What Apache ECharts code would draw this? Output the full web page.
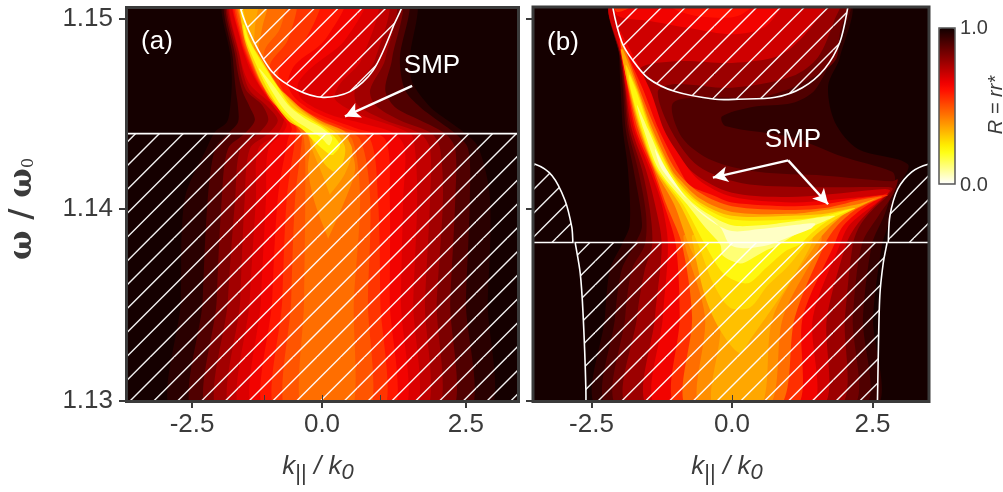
<!DOCTYPE html>
<html><head><meta charset="utf-8">
<style>html,body{margin:0;padding:0;background:#fff}#c{width:1003px;height:492px}</style>
<script src="https://cdn.jsdelivr.net/npm/echarts@6/dist/echarts.min.js"></script>
</head><body><div id="c"></div>
<script>
// ---- reflectance scale (R = rr*), 0..1 in even steps of 0.05
const colorScale=['#ffffff','#ffffc5','#ffff8b','#ffff51','#ffff17','#ffec00','#ffcd00','#ffad00','#ff8e00','#ff6e00','#ff4f00','#ff2f00','#ff1000','#ef0000','#cf0000','#af0000','#8f0000','#700000','#500000','#300000','#100000'];
// ---- panel (a): contour bands, rows are [omega, k left, k right]
const aR96=[[1.1513,-1.70,1.61],[1.1479,-1.63,1.57],[1.1467,-1.61,1.61],[1.1454,-1.64,1.93],[1.1446,-1.70,2.29],[1.1441,-1.91,2.52],[1.1433,-2.05,2.79],[1.1406,-2.45,3.00],[1.1353,-2.52,2.96],[1.1290,-2.57,2.86]];
const aR90=[[1.1513,-1.66,1.48],[1.1479,-1.59,1.39],[1.1463,-1.54,1.48],[1.1454,-1.50,1.75],[1.1446,-1.50,2.11],[1.1440,-1.68,2.38],[1.1432,-1.91,2.61],[1.1406,-2.04,2.64],[1.1353,-2.13,2.57],[1.1290,-2.20,2.52]];
const aR83=[[1.1513,-1.63,1.36],[1.1479,-1.54,1.25],[1.1463,-1.43,1.13],[1.1454,-1.29,1.30],[1.1447,-1.20,1.75],[1.1440,-1.38,2.20],[1.1432,-1.68,2.38],[1.1406,-1.79,2.38],[1.1353,-1.88,2.29],[1.1290,-1.95,2.20]];
const aR77=[[1.1513,-1.61,1.25],[1.1479,-1.50,1.13],[1.1463,-1.36,0.86],[1.1455,-1.07,0.95],[1.1447,-0.96,1.39],[1.1440,-1.14,1.96],[1.1432,-1.46,2.11],[1.1406,-1.55,2.16],[1.1353,-1.68,2.05],[1.1290,-1.77,1.95]];
const aR72=[[1.1513,-1.59,1.13],[1.1479,-1.46,0.95],[1.1463,-1.30,0.59],[1.1455,-1.00,0.64],[1.1447,-0.79,1.13],[1.1440,-0.96,1.75],[1.1432,-1.29,1.93],[1.1406,-1.38,1.93],[1.1353,-1.46,1.84],[1.1290,-1.55,1.75]];
const aR68=[[1.1513,-1.57,0.95],[1.1479,-1.45,0.71],[1.1466,-1.29,0.32],[1.1458,-1.00,0.23],[1.1450,-0.68,0.68],[1.1440,-0.79,1.57],[1.1432,-1.14,1.66],[1.1406,-1.18,1.70],[1.1353,-1.29,1.63],[1.1290,-1.38,1.57]];
const aR64=[[1.1513,-1.55,0.77],[1.1489,-1.46,0.41],[1.1474,-1.29,-0.21],[1.1466,-1.14,-0.43],[1.1458,-0.96,-0.36],[1.1450,-0.75,0.14],[1.1445,-0.63,0.77],[1.1440,-0.71,1.30],[1.1432,-0.96,1.48],[1.1406,-1.00,1.45],[1.1353,-1.09,1.41],[1.1290,-1.16,1.39]];
const aR59=[[1.1513,-1.54,0.41],[1.1489,-1.45,0.05],[1.1476,-1.29,-0.48],[1.1466,-1.13,-0.61],[1.1458,-0.93,-0.46],[1.1450,-0.70,-0.04],[1.1443,-0.54,0.59],[1.1437,-0.61,1.13],[1.1406,-0.79,1.21],[1.1353,-0.89,1.21],[1.1290,-0.98,1.21]];
const aR54=[[1.1513,-1.52,-0.04],[1.1489,-1.43,-0.30],[1.1476,-1.27,-0.75],[1.1466,-1.11,-0.75],[1.1458,-0.91,-0.57],[1.1450,-0.66,-0.18],[1.1443,-0.46,0.41],[1.1437,-0.48,0.86],[1.1406,-0.63,1.00],[1.1353,-0.71,1.04],[1.1290,-0.79,1.04]];
const aR49=[[1.1513,-1.50,-0.48],[1.1489,-1.41,-0.61],[1.1476,-1.25,-0.93],[1.1466,-1.09,-0.80],[1.1458,-0.89,-0.60],[1.1450,-0.65,-0.25],[1.1443,-0.40,0.29],[1.1437,-0.36,0.68],[1.1406,-0.48,0.86],[1.1353,-0.55,0.82],[1.1290,-0.61,0.80]];
const aR45=[[1.1513,-1.50,-0.66],[1.1495,-1.43,-0.75],[1.1484,-1.34,-1.02],[1.1474,-1.20,-1.02],[1.1466,-1.07,-0.84],[1.1458,-0.93,-0.57],[1.1450,-0.66,-0.25],[1.1443,-0.43,0.21],[1.1437,-0.32,0.54],[1.1406,-0.30,0.68],[1.1353,-0.32,0.57],[1.1290,-0.34,0.50]];
const aR40=[[1.1513,-1.50,-0.96],[1.1495,-1.41,-1.07],[1.1481,-1.29,-1.14],[1.1469,-1.13,-1.00],[1.1461,-0.96,-0.66],[1.1453,-0.77,-0.36],[1.1446,-0.55,0.02],[1.1441,-0.30,0.41],[1.1434,-0.21,0.50],[1.1421,-0.25,0.59],[1.1403,-0.12,0.38],[1.1385,0.11,0.11]];
const aR36=[[1.1513,-1.48,-1.14],[1.1495,-1.41,-1.20],[1.1481,-1.27,-1.20],[1.1469,-1.11,-1.02],[1.1461,-0.95,-0.68],[1.1453,-0.73,-0.39],[1.1446,-0.52,-0.04],[1.1441,-0.27,0.32],[1.1432,-0.18,0.54],[1.1419,0.00,0.41],[1.1408,0.14,0.14]];
const aR30=[[1.1505,-1.46,-1.41],[1.1489,-1.38,-1.29],[1.1477,-1.23,-1.04],[1.1465,-1.05,-0.79],[1.1454,-0.80,-0.46],[1.1446,-0.57,-0.07],[1.1441,-0.25,0.23],[1.1433,-0.13,0.41],[1.1424,0.05,0.36],[1.1420,0.20,0.20]];
const aR22=[[1.1497,-1.41,-1.39],[1.1489,-1.36,-1.30],[1.1477,-1.19,-1.07],[1.1465,-1.00,-0.80],[1.1454,-0.77,-0.54],[1.1447,-0.55,-0.18],[1.1442,-0.34,0.09],[1.1434,-0.07,0.32],[1.1429,0.14,0.20]];
const aR14=[[1.1474,-1.13,-1.11],[1.1465,-0.95,-0.86],[1.1454,-0.71,-0.57],[1.1447,-0.48,-0.25],[1.1443,-0.27,0.00],[1.1438,-0.02,0.18],[1.1434,0.11,0.14]];
const aLevels=[.96,.90,.83,.77,.72,.68,.64,.59,.54,.49,.45,.40,.36,.30,.22,.14];
const aRows=[aR96,aR90,aR83,aR77,aR72,aR68,aR64,aR59,aR54,aR49,aR45,aR40,aR36,aR30,aR22,aR14];
// ---- panel (b): contour outlines as [k, omega]
const b95=[[-2.14,1.1510],[-2.03,1.1489],[-1.98,1.1463],[-1.94,1.1442],[-1.85,1.1421],[-1.82,1.1392],[-1.96,1.1382],[-2.17,1.1369],[-2.26,1.1344],[-2.35,1.1296],[2.51,1.1296],[2.51,1.1344],[2.67,1.1382],[2.78,1.1392],[2.94,1.1411],[3.13,1.1424],[2.24,1.1432],[1.83,1.1446],[1.71,1.1465],[1.92,1.1480],[2.06,1.1510]];
const b90=[[-2.10,1.1510],[-1.99,1.1479],[-1.94,1.1463],[-1.89,1.1442],[-1.75,1.1421],[-1.60,1.1392],[-1.73,1.1382],[-1.96,1.1369],[-2.08,1.1344],[-2.17,1.1296],[2.31,1.1296],[2.33,1.1344],[2.49,1.1382],[2.72,1.1398],[2.90,1.1416],[2.85,1.1420],[1.96,1.1428],[1.07,1.1438],[-0.12,1.1444],[-0.18,1.1449],[0.36,1.1454],[1.07,1.1456],[1.48,1.1463],[1.83,1.1484],[2.05,1.1510]];
const b85=[[-2.12,1.1510],[-1.98,1.1479],[-1.92,1.1463],[-1.85,1.1442],[-1.67,1.1421],[-1.53,1.1398],[-1.55,1.1382],[-1.78,1.1369],[-1.90,1.1344],[-1.99,1.1296],[2.10,1.1296],[2.15,1.1344],[2.31,1.1382],[2.63,1.1398],[2.86,1.1408],[2.95,1.1416],[2.85,1.1415],[1.65,1.1418],[0.46,1.1420],[-0.36,1.1426],[-0.89,1.1438],[-1.05,1.1456],[-0.36,1.1459],[0.50,1.1459],[1.21,1.1466],[1.83,1.1478],[1.92,1.1493],[2.01,1.1510]];
const b78=[[-2.12,1.1510],[-1.96,1.1479],[-1.90,1.1463],[-1.82,1.1442],[-1.60,1.1421],[-1.46,1.1400],[-1.42,1.1382],[-1.55,1.1369],[-1.69,1.1344],[-1.82,1.1296],[1.87,1.1296],[2.01,1.1344],[2.15,1.1382],[2.28,1.1392],[2.53,1.1401],[2.72,1.1406],[2.86,1.1411],[2.78,1.1412],[1.35,1.1412],[0.18,1.1414],[-0.60,1.1423],[-1.07,1.1441],[-1.32,1.1462],[-1.01,1.1466],[0.00,1.1464],[1.07,1.1470],[1.53,1.1480],[1.83,1.1500],[1.92,1.1510]];
const b70=[[-2.12,1.1510],[-1.96,1.1479],[-1.89,1.1463],[-1.78,1.1442],[-1.53,1.1421],[-1.37,1.1403],[-1.25,1.1382],[-1.37,1.1344],[-1.46,1.1296],[1.57,1.1296],[1.69,1.1344],[2.03,1.1382],[2.19,1.1391],[2.46,1.1400],[2.81,1.1410],[2.72,1.1411],[1.17,1.1407],[0.00,1.1409],[-0.71,1.1420],[-1.14,1.1437],[-1.46,1.1460],[-1.64,1.1474],[-0.93,1.1478],[0.00,1.1477],[0.85,1.1481],[1.39,1.1495],[1.65,1.1510]];
const bTop64=[[-2.12,1.1513],[-2.05,1.1502],[-1.46,1.1499],[-0.71,1.1495],[0.00,1.1492],[0.59,1.1496],[0.94,1.1510],[0.94,1.1513]];
const bTop60=[[-1.28,1.1513],[-1.01,1.1505],[-0.48,1.1501],[0.14,1.1502],[0.50,1.1513]];
const bTop55=[[-2.12,1.1513],[-2.06,1.1504],[-1.82,1.1506],[-1.64,1.1513]];
const b64=[[-2.03,1.1495],[-1.87,1.1463],[-1.74,1.1442],[-1.46,1.1421],[-1.25,1.1403],[-1.14,1.1382],[-1.23,1.1344],[-1.32,1.1296],[1.39,1.1296],[1.44,1.1344],[1.92,1.1382],[2.06,1.1391],[2.31,1.1398],[2.54,1.1403],[2.78,1.1409],[2.67,1.1408],[1.65,1.1405],[1.07,1.1404],[0.00,1.1407],[-0.60,1.1416],[-1.01,1.1432],[-1.21,1.1442],[-1.46,1.1463],[-1.85,1.1486]];
const b55=[[-1.99,1.1492],[-1.85,1.1463],[-1.71,1.1442],[-1.42,1.1421],[-1.21,1.1403],[-1.00,1.1382],[-0.93,1.1344],[-0.98,1.1296],[1.12,1.1296],[1.26,1.1344],[1.82,1.1382],[1.96,1.1391],[2.24,1.1399],[2.49,1.1404],[2.78,1.1408],[2.24,1.1406],[1.65,1.1403],[1.07,1.1402],[0.00,1.1404],[-0.36,1.1408],[-0.75,1.1413],[-0.93,1.1421],[-1.30,1.1442],[-1.58,1.1463],[-1.90,1.1484]];
const b45=[[-1.99,1.1489],[-1.84,1.1463],[-1.67,1.1442],[-1.39,1.1421],[-1.17,1.1403],[-0.89,1.1382],[-0.71,1.1344],[-0.80,1.1296],[0.82,1.1296],[1.12,1.1344],[1.65,1.1382],[1.85,1.1391],[2.14,1.1399],[2.38,1.1403],[2.67,1.1407],[2.24,1.1405],[1.65,1.1401],[1.07,1.1400],[0.00,1.1402],[-0.57,1.1409],[-1.00,1.1421],[-1.35,1.1442],[-1.64,1.1463],[-1.94,1.1487]];
const b40=[[-0.84,1.1382],[-0.48,1.1344],[-0.57,1.1296],[0.64,1.1296],[0.91,1.1344],[1.57,1.1382],[1.57,1.1387],[-0.84,1.1387]];
const b36=[[-1.98,1.1484],[-1.83,1.1463],[-1.64,1.1442],[-1.37,1.1421],[-1.03,1.1403],[-0.77,1.1382],[-0.21,1.1344],[-0.34,1.1296],[0.50,1.1296],[0.73,1.1344],[1.49,1.1382],[1.71,1.1390],[2.01,1.1398],[2.28,1.1402],[2.56,1.1406],[2.24,1.1403],[1.65,1.1400],[1.07,1.1398],[0.00,1.1399],[-0.57,1.1406],[-0.93,1.1416],[-1.07,1.1421],[-1.41,1.1442],[-1.67,1.1463],[-1.94,1.1484]];
const b32=[[-0.69,1.1382],[-0.48,1.1355],[-0.21,1.1337],[0.14,1.1325],[0.32,1.1332],[0.68,1.1347],[0.98,1.1360],[1.41,1.1382],[1.41,1.1387],[-0.69,1.1387]];
const b28=[[-1.89,1.1476],[-1.81,1.1463],[-1.62,1.1442],[-1.35,1.1421],[-0.93,1.1403],[-0.60,1.1382],[-0.34,1.1362],[-0.04,1.1349],[0.32,1.1349],[0.62,1.1360],[0.98,1.1370],[1.32,1.1382],[1.57,1.1389],[1.89,1.1396],[2.19,1.1401],[1.65,1.1398],[1.07,1.1397],[0.00,1.1397],[-0.57,1.1404],[-0.93,1.1414],[-1.10,1.1421],[-1.44,1.1442],[-1.69,1.1463]];
const b22=[[-1.83,1.1471],[-1.80,1.1463],[-1.60,1.1442],[-1.33,1.1421],[-0.87,1.1403],[-0.48,1.1382],[-0.16,1.1367],[0.14,1.1362],[0.32,1.1362],[0.62,1.1370],[0.98,1.1379],[1.21,1.1382],[1.42,1.1388],[1.74,1.1395],[2.10,1.1400],[2.19,1.1401],[1.65,1.1397],[1.07,1.1395],[0.00,1.1395],[-0.48,1.1401],[-0.85,1.1410],[-1.12,1.1421],[-1.46,1.1442],[-1.71,1.1463]];
const b12=[[-1.69,1.1455],[-1.57,1.1442],[-1.30,1.1421],[-0.80,1.1403],[-0.48,1.1391],[-0.21,1.1382],[-0.16,1.1376],[0.14,1.1372],[0.32,1.1374],[0.62,1.1379],[0.85,1.1382],[1.12,1.1387],[1.48,1.1392],[1.83,1.1397],[1.07,1.1394],[0.50,1.1392],[0.00,1.1392],[-0.43,1.1398],[-0.78,1.1406],[-1.16,1.1421],[-1.49,1.1442]];
const b05=[[-1.37,1.1432],[-1.24,1.1421],[-0.71,1.1403],[-0.21,1.1391],[-0.04,1.1382],[0.23,1.1380],[0.68,1.1382],[1.03,1.1386],[1.39,1.1390],[1.48,1.1393],[1.07,1.1392],[0.50,1.1390],[0.00,1.1389],[-0.36,1.1394],[-0.75,1.1404],[-1.16,1.1421]];
const bLevels=[.95,.90,.85,.78,.70,.64,.60,.55,.64,.55,.45,.40,.36,.32,.28,.22,.12,.05];
const bShapes=[b95,b90,b85,b78,b70,bTop64,bTop60,bTop55,b64,b55,b45,b40,b36,b32,b28,b22,b12,b05];
// ---- forbidden (hatched) regions, [k, omega]; a repeated point is a sharp corner
const aGapUpper=[[-1.46,1.1513],[-1.46,1.1506],[-1.23,1.1489],[-0.88,1.1472],[-0.45,1.1463],[0.02,1.1459],[0.50,1.1462],[0.91,1.1473],[1.27,1.1496],[1.43,1.1513]];
const aGapLower=[[-4,1.1440],[4,1.1440],[4,1.1285],[-4,1.1285]];
const bGapUpper=[[-2.12,1.1513],[-2.12,1.1506],[-1.96,1.1488],[-1.78,1.1479],[-1.49,1.1469],[-1.01,1.1462],[-0.30,1.1458],[0.11,1.1458],[0.77,1.1459],[1.25,1.1464],[1.65,1.1474],[1.92,1.1488],[2.06,1.1506],[2.08,1.1513]];
const bGapLeft=[[-3.77,1.1424],[-3.77,1.1424],[-3.50,1.1424],[-3.20,1.1418],[-2.97,1.1405],[-2.85,1.1391],[-2.83,1.1383],[-2.83,1.1383],[-3.77,1.1383],[-3.77,1.1383]];
const bGapCenter=[[-2.79,1.1383],[-2.79,1.1383],[-2.70,1.1367],[-2.65,1.1346],[-2.60,1.1307],[-2.60,1.1285],[-2.60,1.1285],[2.58,1.1285],[2.58,1.1285],[2.60,1.1320],[2.63,1.1355],[2.69,1.1372],[2.76,1.1383],[2.76,1.1383]];
const bGapRight=[[2.78,1.1383],[2.78,1.1383],[2.81,1.1397],[2.95,1.1411],[3.20,1.1420],[3.49,1.1424],[3.70,1.1424],[3.70,1.1424],[3.70,1.1383],[3.70,1.1383]];
// ---- ticks
const omegaTicks=[1.13,1.14005,1.15];
const aTickAt=[-2.32,0,2.57], kTickText=['-2.5','0.0','2.5'], aMinorAt=[-1.04,0,1.04];
const bTickAt=[-2.5,0,2.5], bMinorAt=[0];
// ---- SMP pointers, [k, omega]
const aArrow=[[1.61,1.1465],[0.41,1.1449]];
const bArrowApex=[1.00,1.1426], bArrowL=[-0.34,1.1417], bArrowR=[1.71,1.1403];

const ink='#3b3b3b', sans='"Liberation Sans",Arial,sans-serif';
function hatch(phase){
  const c=document.createElement('canvas');c.width=c.height=119;
  const g=c.getContext('2d');g.strokeStyle='rgba(255,255,255,0.95)';g.lineWidth=1.4;
  for(let n=-1;n<=11;n++){const s=phase+23.8*n;g.beginPath();g.moveTo(s,0);g.lineTo(0,s);g.stroke();}
  return c;
}
function rowsToShape(rows){
  return rows.map(r=>[r[1],r[0]]).concat(rows.slice().reverse().map(r=>[r[2],r[0]]));
}
function contourSeries(shapes,levels,xi,yi){
  return {type:'custom',xAxisIndex:xi,yAxisIndex:yi,clip:true,silent:true,animation:false,z:2,
    data:levels.map((R,i)=>[R,i]),
    renderItem(p,api){
      const s=shapes[api.value(1)];
      return {type:'polygon',shape:{points:s.map(q=>api.coord(q)),smooth:0.3},style:{fill:api.visual('color'),stroke:null}};
    }};
}
function gapSeries(gaps,xi,yi){
  return {type:'custom',xAxisIndex:xi,yAxisIndex:yi,clip:true,silent:true,animation:false,z:3,
    data:gaps.map((g,i)=>[i]),
    renderItem(p,api){
      const g=gaps[api.value(0)];
      return {type:'polygon',shape:{points:g.pts.map(q=>api.coord(q)),smooth:g.smooth},
        style:{fill:{image:g.tile,repeat:'repeat'},stroke:'#ffffff',lineWidth:1.6}};
    }};
}
function arrowSeries(pairs,xi,yi){
  return {type:'line',xAxisIndex:xi,yAxisIndex:yi,data:[],silent:true,animation:false,z:4,
    markLine:{silent:true,animation:false,symbol:['none','arrow'],symbolSize:[12,15],label:{show:false},
      lineStyle:{color:'#fff',width:2.4,type:'solid'},
      data:pairs.map(p=>[{coord:p[0]},{coord:p[1]}])}};
}
function xAxes(g,min,max,at,minor,name){
  return [{type:'value',gridIndex:g,min,max,z:5,splitLine:{show:false},axisLine:{show:false,onZero:false},
      axisTick:{show:true,customValues:at,length:7,lineStyle:{color:ink,width:2}},
      axisLabel:{customValues:at,margin:11,color:ink,fontSize:26,fontFamily:sans,formatter:v=>kTickText[at.indexOf(v)]},
      name,nameLocation:'middle',nameGap:48,
      nameTextStyle:{color:ink,padding:[0,8,0,0],rich:{k:{fontFamily:sans,fontStyle:'italic',fontSize:26,color:ink},
        s:{fontFamily:sans,fontSize:22,color:ink,padding:[14,0,0,0]},
        z:{fontFamily:sans,fontStyle:'italic',fontSize:22,color:ink,padding:[12,0,0,0]}}}},
    {type:'value',gridIndex:g,min,max,z:5,position:'bottom',splitLine:{show:false},axisLine:{show:false,onZero:false},axisLabel:{show:false},
      axisTick:{show:true,inside:true,customValues:minor,length:6,lineStyle:{color:ink,width:1}}}];
}
function yAxis(g,withLabels){
  return {type:'value',gridIndex:g,min:1.13,max:1.15063,z:5,splitLine:{show:false},axisLine:{show:false,onZero:false},
    axisTick:{show:true,customValues:omegaTicks,length:7,lineStyle:{color:ink,width:2}},
    axisLabel:{show:withLabels,customValues:omegaTicks,margin:13,color:ink,fontSize:26,fontFamily:sans,formatter:v=>v.toFixed(2)},
    name:withLabels?'{w|ω / ω}{s|0}':'',nameLocation:'middle',nameGap:88,
    nameTextStyle:{padding:[0,10,0,0],rich:{w:{fontFamily:'"DejaVu Serif"',fontWeight:'bold',fontSize:31,color:ink},
      s:{fontFamily:'"DejaVu Serif"',fontSize:16,color:ink,padding:[12,0,0,0]}}}};
}
const kName='{k|k}{s|||}{k| / k}{z|0}';
const frame=(x,y,w,h)=>({type:'rect',z:20,silent:true,shape:{x,y,width:w,height:h},style:{fill:null,stroke:ink,lineWidth:3}});
const label=(x,y,text,size,color)=>({type:'text',z:20,silent:true,x,y,style:{text,fill:color,font:size+'px '+sans,align:'center',verticalAlign:'middle'}});
const aShapes=aRows.map(rowsToShape);
const chart=echarts.init(document.getElementById('c'),null,{renderer:'canvas'});
chart.setOption({
  animation:false,backgroundColor:'#fff',
  grid:[{left:126,top:7,width:392,height:394,show:true,backgroundColor:'#150000',borderWidth:0},
        {left:533,top:7,width:396,height:394,show:true,backgroundColor:'#150000',borderWidth:0}],
  xAxis:[...xAxes(0,-3.5,3.5,aTickAt,aMinorAt,kName),...xAxes(1,-3.54,3.505,bTickAt,bMinorAt,kName)],
  yAxis:[yAxis(0,true),yAxis(1,false)],
  visualMap:{type:'continuous',min:0,max:1,dimension:0,seriesIndex:[0,3],calculable:false,
    left:924,top:13,itemWidth:16,itemHeight:156,text:null,showLabel:false,inRange:{color:colorScale}},
  series:[
    contourSeries(aShapes,aLevels,0,0),
    gapSeries([{pts:aGapLower,smooth:0,tile:hatch(7.4)},{pts:aGapUpper,smooth:0.3,tile:hatch(13.2)}],0,0),
    arrowSeries([[aArrow[0],aArrow[1]]],0,0),
    contourSeries(bShapes,bLevels,2,1),
    gapSeries([{pts:bGapUpper,smooth:0.3,tile:hatch(2.4)},{pts:bGapLeft,smooth:0.3,tile:hatch(9)},{pts:bGapCenter,smooth:0.3,tile:hatch(23.2)},{pts:bGapRight,smooth:0.3,tile:hatch(9.4)}],2,1),
    arrowSeries([[bArrowApex,bArrowL],[bArrowApex,bArrowR]],2,1)
  ],
  graphic:[
    frame(126.5,7.5,392,394),frame(533,7,396,394.5),
    {type:'rect',z:20,silent:true,shape:{x:939,y:28,width:16,height:156},style:{fill:null,stroke:'#555',lineWidth:1.5}},
    label(157,42,'(a)',26,'#fff'),label(563,43,'(b)',26,'#fff'),
    label(432,66,'SMP',26,'#fff'),label(793,140,'SMP',26,'#fff'),
    label(974,28,'1.0',20,ink),label(974,185,'0.0',20,ink),
    {type:'text',z:20,silent:true,x:996,y:105,rotation:Math.PI/2,
      style:{text:'R = rr*',fill:ink,font:'italic 20px '+sans,align:'center',verticalAlign:'middle'}}
  ]
});
</script></body></html>
